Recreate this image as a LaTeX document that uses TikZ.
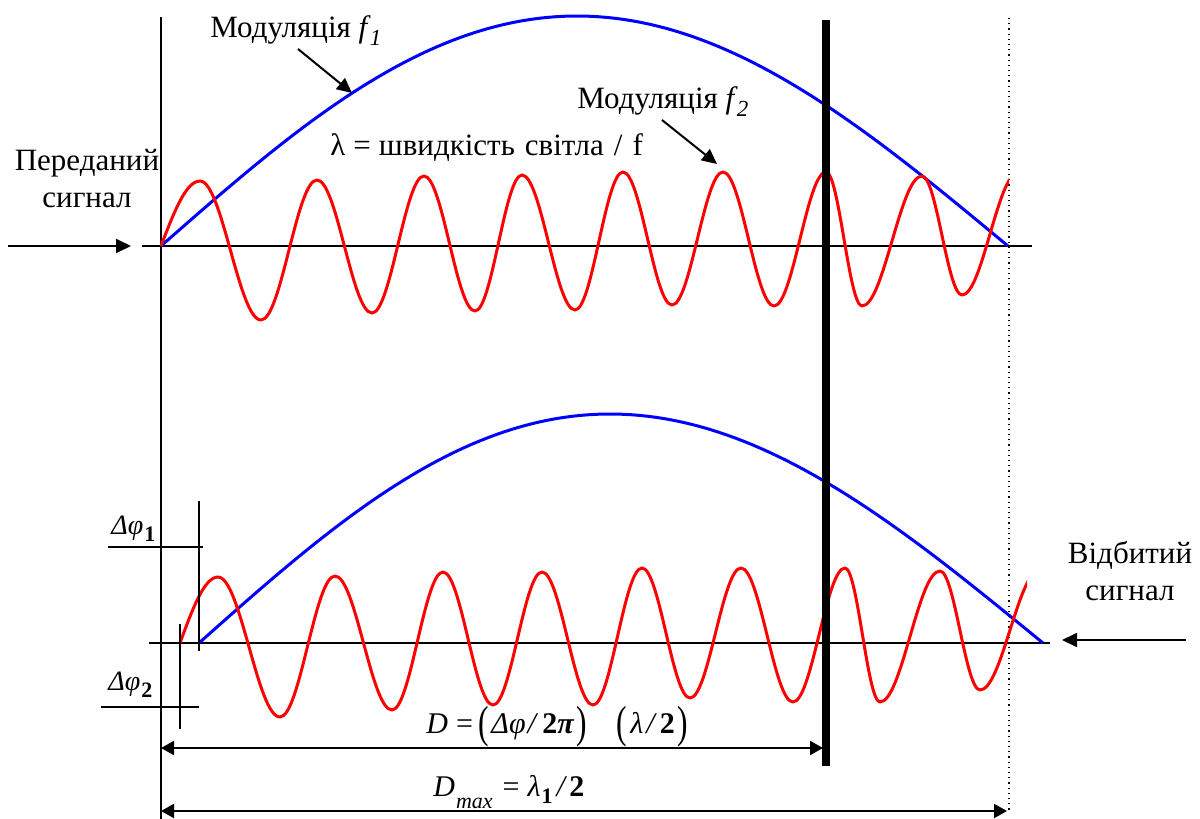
\documentclass[tikz,border=0pt]{standalone}
\usepackage{fontspec}
\setmainfont{Liberation Serif}
\usetikzlibrary{arrows.meta}
\newcommand{\lblfont}{\fontsize{15.5}{18}\selectfont}
\newcommand{\frmfont}{\fontsize{15}{17}\selectfont}
\newcommand{\dphfont}{\fontsize{14}{16}\selectfont}
\newcommand{\subsc}[1]{\raisebox{-0.28em}{\fontsize{11.5}{11}\selectfont #1}}
\newcommand{\bigpar}[1]{\raisebox{-0.16em}{\scalebox{1.05}[1.5]{#1}}}
\tikzset{
  axisline/.style={line width=1pt, black},
  thinmark/.style={line width=0.9pt, black},
  wave/.style={red, line width=1.5pt, line join=round},
  envel/.style={blue, line width=1.5pt},
  arr/.style={line width=1pt, -{Triangle[length=7.5pt,width=7pt]}},
  darr/.style={line width=1pt, {Triangle[length=6.5pt,width=7pt]}-{Triangle[length=6.5pt,width=7pt]}},
  lbl/.style={inner sep=0pt, font=\lblfont, anchor=base west},
  lblc/.style={inner sep=0pt, font=\lblfont, anchor=base},
  frm/.style={inner sep=0pt, font=\frmfont, anchor=base west},
  dph/.style={inner sep=0pt, font=\dphfont, anchor=base west},
}
\begin{document}
\begin{tikzpicture}[x=0.5pt, y=-0.5pt]
\useasboundingbox (0,0) rectangle (1200,819);

% named coordinates
\coordinate (axT) at (161,17);
\coordinate (axB) at (161,819);
\coordinate (h1L) at (142,246);
\coordinate (h1R) at (1032,246);
\coordinate (h2L) at (149,643);
\coordinate (h2R) at (1050,643);
\coordinate (thT) at (826,20);
\coordinate (thB) at (826,766);
\coordinate (dtT) at (1009,18);
\coordinate (dtB) at (1009,810);
\coordinate (inS) at (8,246);
\coordinate (inE) at (131,246);
\coordinate (outS) at (1186,640);
\coordinate (outE) at (1062,640);
\coordinate (f1S) at (298,49);
\coordinate (f1E) at (352,93);
\coordinate (f2S) at (662,120);
\coordinate (f2E) at (717,164);
\coordinate (dL) at (161,748);
\coordinate (dR) at (823,748);
\coordinate (dmL) at (161,811);
\coordinate (dmR) at (1007,811);

% axes and markers
\draw[axisline] (axT) -- (axB);
\draw[axisline] (h1L) -- (h1R);
\draw[axisline] (h2L) -- (h2R);
\draw[line width=0.6pt, dotted] (dtT) -- (dtB);

% top envelope (blue)
\draw[envel] plot[domain=0:180, samples=100, variable=\t]
  ({161+847*(\t/180)-7.5*sin(\t)}, {246-230*sin(\t)});
% bottom envelope (blue)
\draw[envel] plot[domain=0:180, samples=100, variable=\t]
  ({199+844*(\t/180)-11*sin(\t)}, {643-229*sin(\t)});

% top wave (red)
\begin{scope}
\clip (150,0) rectangle (1009,400);
\draw[wave] (161,246) sin (200,181) cos (230.5,250.5) sin (261,320)
  cos (289,250) sin (317,180) cos (344.5,246.5) sin (372,313)
  cos (398,244.5) sin (424,176) cos (449.5,243.5) sin (475,311)
  cos (498.5,243) sin (522,175) cos (548.5,242.5) sin (575,310)
  cos (599,241) sin (623,172) cos (647.5,238.5) sin (672,305)
  cos (697.5,238.5) sin (723,172) cos (748.5,239) sin (774,306)
  cos (800,239) sin (826,172) cos (844,239) sin (862,306)
  cos (892,241) sin (922,176) cos (942,235.5) sin (962,295)
  cos (990,234) sin (1018,173);
\end{scope}

% bottom wave (red)
\begin{scope}
\clip (170,500) rectangle (1027,760);
\draw[wave] (180,643) sin (218,577) cos (249,647) sin (280,717)
  cos (307.5,646.5) sin (335,576) cos (363.5,643) sin (392,710)
  cos (417.5,641) sin (443,572) cos (468,638.5) sin (493,705)
  cos (517.5,638.5) sin (542,572) cos (567.5,638.5) sin (593,705)
  cos (617.5,636.5) sin (642,568) cos (666,633) sin (690,698)
  cos (715.5,633) sin (741,568) cos (767,635) sin (793,702)
  cos (819,635) sin (845,568) cos (862.5,635) sin (880,702)
  cos (910,636.5) sin (940,571) cos (960,630.5) sin (980,690)
  cos (1010,630) sin (1040,570);
\end{scope}

% thick reflector line
\draw[line width=4pt] (thT) -- (thB);

% delta phi markers
\coordinate (p1T) at (199,501);
\coordinate (p1B) at (199,651);
\coordinate (p1L) at (108,547);
\coordinate (p1R) at (203,547);
\coordinate (p2T) at (180,624);
\coordinate (p2B) at (180,729);
\coordinate (p2L) at (101,707);
\coordinate (p2R) at (199,707);
\draw[thinmark] (p1T) -- (p1B);
\draw[thinmark] (p1L) -- (p1R);
\draw[thinmark] (p2T) -- (p2B);
\draw[thinmark] (p2L) -- (p2R);

% arrows
\draw[arr] (inS) -- (inE);
\draw[arr] (outS) -- (outE);
\draw[arr] (f1S) -- (f1E);
\draw[arr] (f2S) -- (f2E);
\draw[darr] (dL) -- (dR);
\draw[darr] (dmL) -- (dmR);

% labels
\node[lbl] (mf1) at (210,37) {Модуляція \textit{f}\kern-0.5pt\subsc{\textit{1}}};
\node[lbl] (mf2) at (577,108) {Модуляція \textit{f}\kern-0.5pt\subsc{\textit{2}}};
\node[lbl] (lam) at (330,155) {λ\kern4pt=\kern4pt{}швидкість\kern5pt{}світла\kern5pt{}/\kern5pt{}f};
\node[lblc] (tx1) at (87,170) {Переданий};
\node[lblc] (tx2) at (87,207) {сигнал};
\node[lblc] (rx1) at (1130,563) {Відбитий};
\node[lblc] (rx2) at (1130,600) {сигнал};
\node[dph] (dp1) at (111,534) {\textit{Δφ}\kern0.5pt\raisebox{-0.25em}{\fontsize{11}{11}\selectfont\bfseries 1}};
\node[dph] (dp2) at (108,690) {\textit{Δφ}\kern0.5pt\raisebox{-0.25em}{\fontsize{11}{11}\selectfont\bfseries 2}};
\node[frm] (dform) at (426,733) {\textit{D}\kern4pt=\kern3pt\bigpar{(}\kern1pt\textit{Δφ}\kern1pt\textit{/}\kern2pt\textbf{2\textit{π}}\kern1pt\bigpar{)}\hspace{15pt}\bigpar{(}\kern1.5pt\textit{λ}\kern1.5pt\textit{/}\kern1.5pt\textbf{2}\kern1.5pt\bigpar{)}};
\node[frm] (dmform) at (433,796) {\textit{D}\kern0.5pt\raisebox{-0.4em}{\fontsize{11}{11}\selectfont\itshape max}\kern5pt=\kern4pt\textit{λ}\kern0.5pt\raisebox{-0.25em}{\fontsize{11}{11}\selectfont\bfseries 1}\kern2pt\textit{/}\kern1pt\textbf{2}};
\end{tikzpicture}
\end{document}
